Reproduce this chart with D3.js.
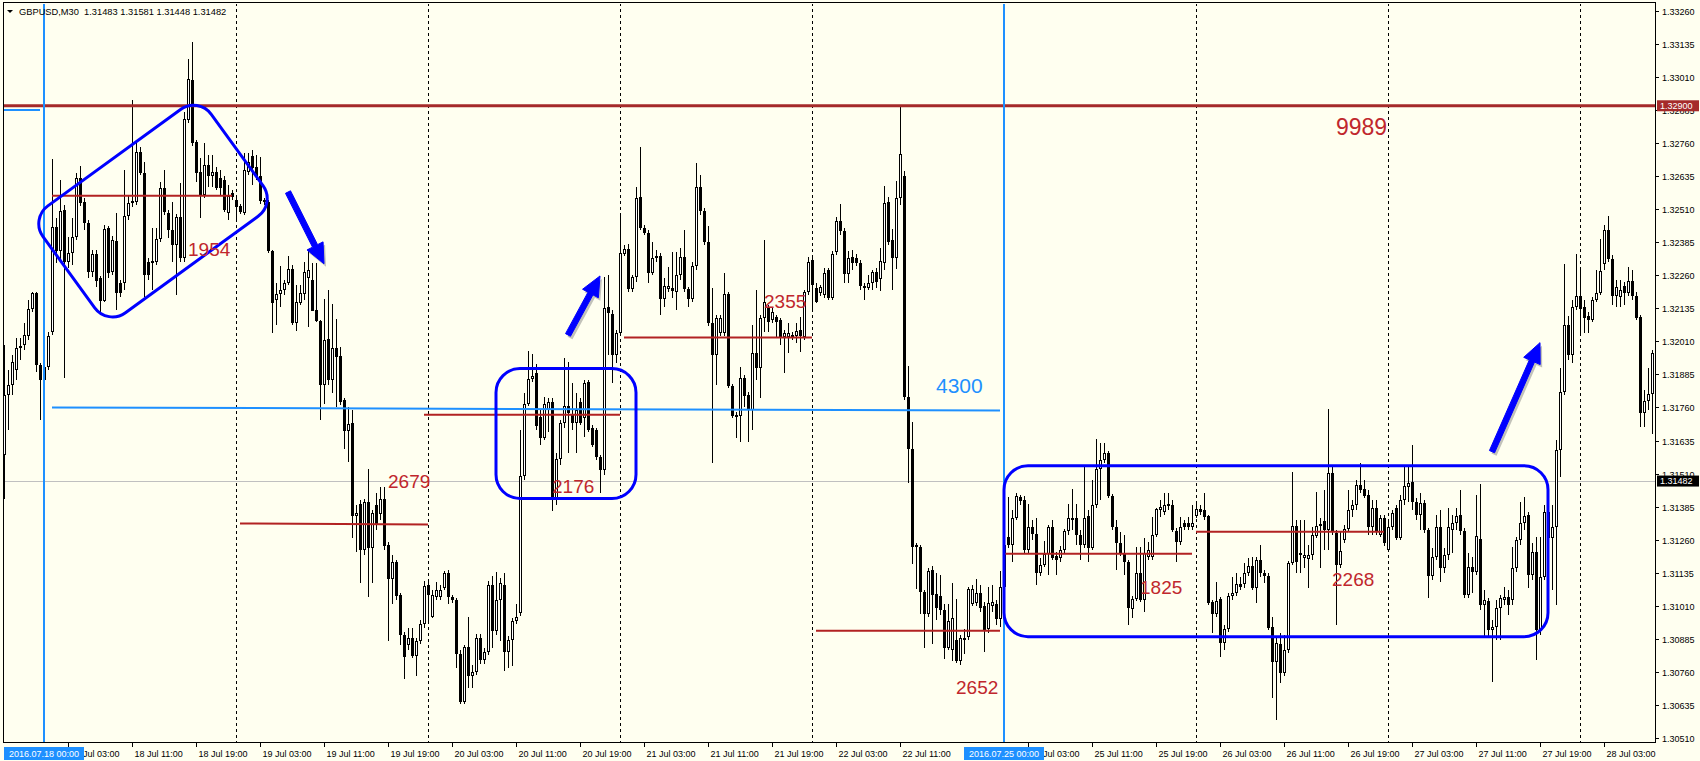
<!DOCTYPE html>
<html><head><meta charset="utf-8">
<script src="https://cdn.jsdelivr.net/npm/d3@7"></script>
<style>
html,body{margin:0;padding:0;background:#FFFFF0;}
svg{display:block;}
text{font-family:"Liberation Sans",Arial,sans-serif;}
</style></head><body>
<svg id="chart" width="1700" height="761"></svg>
<script>
const symbolTitle = "GBPUSD,M30  1.31483 1.31581 1.31448 1.31482";
const firstBarTime = "2016-07-15 19:00";

const open = [1.31580,1.31807,1.31845,1.31901,1.31985,1.31996,1.32030,1.32132,1.32193,1.31920,
1.31864,1.31913,1.32045,1.32442,1.32351,1.32506,1.32310,1.32344,1.32404,1.32627,
1.32536,1.32457,1.32272,1.32340,1.32249,1.32162,1.32438,1.32272,1.32389,1.32230,
1.32230,1.32484,1.32533,1.32536,1.32725,1.32646,1.32310,1.32310,1.32310,1.32397,
1.32589,1.32495,1.32431,1.32374,1.32480,1.32325,1.32846,1.32998,1.32763,1.32650,
1.32563,1.32676,1.32635,1.32650,1.32627,1.32620,1.32495,1.32570,1.32544,1.32521,
1.32495,1.32650,1.32710,1.32669,1.32635,1.32544,1.32536,1.32351,1.32166,1.32189,
1.32204,1.32230,1.32283,1.32079,1.32155,1.32189,1.32249,1.32242,1.32128,1.32087,
1.31845,1.32019,1.31864,1.31985,1.31954,1.31788,1.31671,1.31701,1.31350,1.31395,
1.31221,1.31402,1.31229,1.31391,1.31357,1.31414,1.31240,1.31111,1.31176,1.31051,
1.30900,1.30862,1.30888,1.30820,1.30877,1.30941,1.31089,1.30968,1.31043,1.31043,
1.31077,1.31134,1.31043,1.31032,1.30828,1.30646,1.30854,1.30745,1.30760,1.30888,
1.30805,1.30835,1.31089,1.30915,1.31032,1.31089,1.30835,1.30881,1.30953,1.30983,
1.31501,1.31773,1.31867,1.31890,1.31724,1.31644,1.31750,1.31780,1.31410,1.31565,
1.31701,1.31765,1.31731,1.31701,1.31780,1.31720,1.31856,1.31682,1.31675,1.31573,
1.31523,1.32140,1.32113,1.31958,1.32041,1.32340,1.32359,1.32208,1.32253,1.32555,
1.32438,1.32419,1.32268,1.32329,1.32332,1.32170,1.32208,1.32211,1.32196,1.32261,
1.32329,1.32208,1.32170,1.32295,1.32593,1.32502,1.32385,1.32079,1.31958,1.32041,
1.32041,1.32189,1.31841,1.31724,1.31728,1.31871,1.31807,1.31750,1.31966,1.31909,
1.32098,1.32136,1.32090,1.32102,1.32090,1.32026,1.32026,1.32034,1.32030,1.32053,
1.32026,1.32196,1.32317,1.32211,1.32193,1.32185,1.32279,1.32174,1.32347,1.32465,
1.32427,1.32264,1.32329,1.32325,1.32306,1.32219,1.32211,1.32230,1.32272,1.32245,
1.32306,1.32536,1.32393,1.32325,1.32552,1.32635,1.31799,1.31603,1.31232,1.31232,
1.31062,1.30979,1.31145,1.31055,1.31047,1.30994,1.30851,1.30843,1.30881,1.30801,
1.30881,1.30892,1.31017,1.31021,1.31058,1.31009,1.30922,1.31009,1.31017,1.30960,
1.31081,1.31270,1.31240,1.31342,1.31421,1.31410,1.31221,1.31308,1.31282,1.31134,
1.31164,1.31206,1.31308,1.31198,1.31191,1.31221,1.31293,1.31334,1.31342,1.31278,
1.31240,1.31350,1.31229,1.31391,1.31527,1.31561,1.31588,1.31425,1.31308,1.31248,
1.31210,1.31176,1.30998,1.31036,1.31134,1.31032,1.31195,1.31195,1.31278,1.31372,
1.31365,1.31395,1.31391,1.31293,1.31251,1.31323,1.31323,1.31308,1.31350,1.31376,
1.31372,1.31350,1.31024,1.30979,1.31036,1.30869,1.30922,1.31047,1.31058,1.31092,
1.31092,1.31134,1.31161,1.31077,1.31183,1.31134,1.31123,1.30930,1.30798,1.30866,
1.30756,1.30843,1.31172,1.31312,1.31210,1.31191,1.31187,1.31202,1.31274,1.31312,
1.31331,1.31297,1.31512,1.31285,1.31164,1.31259,1.31300,1.31372,1.31391,1.31467,
1.31452,1.31429,1.31308,1.31380,1.31278,1.31342,1.31221,1.31308,1.31380,1.31266,
1.31410,1.31459,1.31478,1.31402,1.31353,1.31399,1.31297,1.31123,1.31195,1.31308,
1.31153,1.31202,1.31297,1.31323,1.31353,1.31293,1.31051,1.31157,1.31138,1.31263,
1.31013,1.31028,1.30919,1.30930,1.31002,1.31032,1.31043,1.31032,1.31153,1.31259,
1.31323,1.31353,1.31127,1.31213,1.30919,1.31119,1.31365,1.31266,1.31308,1.31599,
1.31818,1.32072,1.31958,1.32140,1.32181,1.32140,1.32106,1.32090,1.32166,1.32193,
1.32302,1.32431,1.32321,1.32181,1.32177,1.32219,1.32193,1.32238,1.32181,1.32102,
1.31739,1.31784,1.31811];

const high = [1.31996,1.31901,1.31958,1.32022,1.32022,1.32079,1.32166,1.32196,1.32196,1.31928,
1.31958,1.32045,1.32699,1.32476,1.32620,1.32525,1.32404,1.32476,1.32646,1.32673,
1.32552,1.32468,1.32355,1.32355,1.32257,1.32450,1.32446,1.32408,1.32495,1.32242,
1.32657,1.32563,1.32922,1.32771,1.32744,1.32688,1.32325,1.32438,1.32438,1.32612,
1.32657,1.32506,1.32536,1.32491,1.32608,1.32877,1.33077,1.33141,1.32771,1.32703,
1.32760,1.32714,1.32714,1.32669,1.32657,1.32635,1.32601,1.32582,1.32563,1.32529,
1.32722,1.32722,1.32733,1.32714,1.32707,1.32552,1.32544,1.32355,1.32230,1.32295,
1.32242,1.32332,1.32298,1.32223,1.32223,1.32310,1.32359,1.32306,1.32306,1.32090,
1.32170,1.32204,1.32151,1.32094,1.31988,1.31796,1.31762,1.31750,1.31391,1.31410,
1.31414,1.31527,1.31372,1.31436,1.31459,1.31459,1.31251,1.31202,1.31183,1.31058,
1.30911,1.30926,1.30926,1.30888,1.30956,1.31104,1.31100,1.31070,1.31100,1.31089,
1.31142,1.31145,1.31051,1.31040,1.30843,1.30862,1.30968,1.30786,1.30903,1.30903,
1.30851,1.31104,1.31123,1.31138,1.31115,1.31134,1.30896,1.30964,1.31017,1.31675,
1.31814,1.31973,1.31962,1.31924,1.31750,1.31799,1.31796,1.31796,1.31588,1.31712,
1.31947,1.31932,1.31852,1.31814,1.31796,1.31864,1.31864,1.31694,1.31682,1.31580,
1.32253,1.32261,1.32128,1.32053,1.32495,1.32374,1.32378,1.32261,1.32593,1.32744,
1.32450,1.32431,1.32385,1.32355,1.32344,1.32249,1.32291,1.32347,1.32347,1.32363,
1.32431,1.32215,1.32310,1.32684,1.32639,1.32514,1.32446,1.32211,1.32109,1.32109,
1.32268,1.32196,1.31849,1.31743,1.31913,1.31883,1.31818,1.32072,1.32204,1.32109,
1.32393,1.32147,1.32136,1.32109,1.32098,1.32053,1.32079,1.32045,1.32079,1.32102,
1.32204,1.32329,1.32329,1.32230,1.32223,1.32287,1.32287,1.32351,1.32480,1.32529,
1.32438,1.32351,1.32355,1.32340,1.32317,1.32230,1.32261,1.32279,1.32287,1.32363,
1.32597,1.32555,1.32434,1.32616,1.32899,1.32654,1.31917,1.31705,1.31248,1.31240,
1.31070,1.31153,1.31161,1.31134,1.31127,1.31017,1.31017,1.31096,1.31036,1.30900,
1.30922,1.31081,1.31089,1.31111,1.31089,1.31024,1.31081,1.31089,1.31032,1.31142,
1.31259,1.31421,1.31372,1.31436,1.31429,1.31425,1.31395,1.31334,1.31342,1.31191,
1.31255,1.31316,1.31334,1.31213,1.31236,1.31300,1.31395,1.31452,1.31395,1.31297,
1.31539,1.31372,1.31486,1.31641,1.31626,1.31626,1.31595,1.31433,1.31334,1.31289,
1.31278,1.31183,1.31047,1.31232,1.31232,1.31266,1.31251,1.31346,1.31380,1.31410,
1.31436,1.31436,1.31410,1.31304,1.31346,1.31334,1.31346,1.31391,1.31399,1.31391,
1.31436,1.31353,1.31032,1.31100,1.31043,1.30938,1.31058,1.31119,1.31134,1.31119,
1.31172,1.31191,1.31195,1.31195,1.31240,1.31145,1.31134,1.30968,1.30888,1.30907,
1.30900,1.31179,1.31516,1.31334,1.31334,1.31334,1.31240,1.31308,1.31440,1.31342,
1.31448,1.31754,1.31535,1.31297,1.31289,1.31316,1.31448,1.31410,1.31486,1.31550,
1.31486,1.31448,1.31410,1.31410,1.31353,1.31353,1.31327,1.31372,1.31391,1.31429,
1.31535,1.31535,1.31618,1.31418,1.31436,1.31410,1.31304,1.31229,1.31353,1.31372,
1.31229,1.31380,1.31353,1.31380,1.31448,1.31304,1.31210,1.31195,1.31429,1.31470,
1.31070,1.31040,1.30956,1.31032,1.31051,1.31081,1.31070,1.31232,1.31270,1.31402,
1.31421,1.31365,1.31248,1.31270,1.31270,1.31391,1.31410,1.31391,1.31637,1.31909,
1.32302,1.32106,1.32166,1.32340,1.32291,1.32166,1.32121,1.32177,1.32279,1.32397,
1.32450,1.32484,1.32336,1.32242,1.32242,1.32234,1.32291,1.32279,1.32196,1.32109,
1.31826,1.31909,1.31977];

const low = [1.31414,1.31675,1.31807,1.31864,1.31939,1.31977,1.32015,1.32121,1.31894,1.31712,
1.31497,1.31901,1.32034,1.32306,1.32317,1.31871,1.32287,1.32298,1.32393,1.32521,
1.32431,1.32249,1.32253,1.32215,1.32117,1.32158,1.32249,1.32261,1.32128,1.32177,
1.32204,1.32468,1.32518,1.32525,1.32639,1.32177,1.32242,1.32204,1.32298,1.32385,
1.32487,1.32400,1.32310,1.32185,1.32310,1.32310,1.32835,1.32748,1.32612,1.32476,
1.32552,1.32593,1.32593,1.32582,1.32563,1.32499,1.32468,1.32544,1.32461,1.32491,
1.32487,1.32639,1.32601,1.32620,1.32529,1.32525,1.32344,1.32041,1.32072,1.32140,
1.32185,1.32223,1.32072,1.32049,1.32147,1.32166,1.32064,1.32124,1.32083,1.31712,
1.31773,1.31845,1.31814,1.31762,1.31769,1.31603,1.31554,1.31266,1.31213,1.31096,
1.31202,1.31043,1.31096,1.31297,1.31334,1.31221,1.30877,1.31017,1.31032,1.30862,
1.30733,1.30843,1.30813,1.30745,1.30866,1.30926,1.30941,1.30964,1.31032,1.31032,
1.31070,1.31017,1.31021,1.30775,1.30639,1.30639,1.30699,1.30699,1.30748,1.30790,
1.30790,1.30824,1.30851,1.30900,1.30877,1.30764,1.30775,1.30783,1.30941,1.30972,
1.31486,1.31765,1.31856,1.31675,1.31618,1.31637,1.31667,1.31368,1.31391,1.31542,
1.31682,1.31588,1.31675,1.31588,1.31694,1.31648,1.31667,1.31610,1.31561,1.31436,
1.31505,1.31958,1.31852,1.31928,1.32034,1.32332,1.32196,1.32196,1.32234,1.32431,
1.32412,1.32230,1.32261,1.32310,1.32109,1.32140,1.32196,1.32174,1.32128,1.32242,
1.32196,1.32140,1.32158,1.32279,1.32487,1.32374,1.32068,1.31550,1.31845,1.32030,
1.32030,1.31833,1.31720,1.31644,1.31629,1.31762,1.31629,1.31675,1.31864,1.31796,
1.32045,1.32045,1.32079,1.32022,1.31996,1.31890,1.31966,1.32015,1.32003,1.31969,
1.32015,1.32185,1.32128,1.32155,1.32181,1.32174,1.32166,1.32166,1.32336,1.32412,
1.32230,1.32230,1.32279,1.32295,1.32204,1.32166,1.32204,1.32204,1.32211,1.32200,
1.32279,1.32374,1.32204,1.32283,1.32525,1.31788,1.31474,1.31168,1.31074,1.30979,
1.30851,1.30968,1.30866,1.30956,1.30975,1.30809,1.30843,1.30801,1.30794,1.30786,
1.30828,1.30881,1.31009,1.31009,1.30987,1.30835,1.30907,1.30987,1.30938,1.30930,
1.31070,1.31229,1.31176,1.31334,1.31391,1.31206,1.31210,1.31259,1.31089,1.31123,
1.31157,1.31127,1.31183,1.31127,1.31176,1.31210,1.31278,1.31297,1.31240,1.31183,
1.31229,1.31176,1.31221,1.31380,1.31410,1.31550,1.31418,1.31297,1.31145,1.31198,
1.31127,1.30938,1.30964,1.31028,1.31024,1.30987,1.31183,1.31183,1.31270,1.31346,
1.31353,1.31372,1.31289,1.31176,1.31240,1.31297,1.31297,1.31297,1.31342,1.31353,
1.31334,1.31013,1.30907,1.30968,1.30817,1.30843,1.30911,1.31032,1.31047,1.31070,
1.31077,1.31123,1.31070,1.31021,1.31119,1.31096,1.30919,1.30662,1.30578,1.30718,
1.30745,1.30832,1.31164,1.31134,1.31134,1.31153,1.31077,1.31183,1.31266,1.31153,
1.31221,1.31221,1.31278,1.30938,1.31153,1.31248,1.31289,1.31346,1.31372,1.31436,
1.31418,1.31278,1.31278,1.31278,1.31270,1.31236,1.31213,1.31297,1.31259,1.31259,
1.31391,1.31402,1.31372,1.31334,1.31297,1.31285,1.31040,1.31108,1.31183,1.31100,
1.31134,1.31183,1.31210,1.31297,1.31278,1.31040,1.31040,1.31058,1.31127,1.30994,
1.30892,1.30892,1.30722,1.30881,1.30881,1.31013,1.30975,1.31013,1.31138,1.31240,
1.31297,1.31077,1.31108,1.30805,1.30900,1.31108,1.31240,1.31070,1.31013,1.31497,
1.31807,1.31939,1.31928,1.32128,1.32030,1.32041,1.32041,1.32083,1.32158,1.32185,
1.32279,1.32310,1.32147,1.32140,1.32140,1.32147,1.32181,1.32166,1.32090,1.31686,
1.31686,1.31750,1.31660];

const close = [1.31807,1.31845,1.31932,1.31985,1.31992,1.32034,1.32132,1.32193,1.31920,1.31864,
1.31913,1.32030,1.32442,1.32351,1.32502,1.32310,1.32344,1.32404,1.32627,1.32533,
1.32457,1.32272,1.32340,1.32238,1.32162,1.32434,1.32268,1.32393,1.32193,1.32193,
1.32484,1.32533,1.32540,1.32725,1.32646,1.32261,1.32261,1.32313,1.32397,1.32589,
1.32499,1.32431,1.32374,1.32480,1.32325,1.32850,1.33001,1.32760,1.32646,1.32563,
1.32676,1.32635,1.32650,1.32589,1.32589,1.32506,1.32559,1.32555,1.32518,1.32499,
1.32657,1.32688,1.32665,1.32631,1.32540,1.32536,1.32351,1.32155,1.32189,1.32204,
1.32230,1.32283,1.32079,1.32158,1.32193,1.32272,1.32279,1.32124,1.32087,1.31845,
1.32015,1.31864,1.31985,1.31951,1.31780,1.31671,1.31697,1.31350,1.31361,1.31221,
1.31402,1.31229,1.31361,1.31319,1.31414,1.31236,1.31111,1.31176,1.31047,1.30900,
1.30817,1.30888,1.30820,1.30877,1.30941,1.31085,1.31051,1.31051,1.31070,1.31070,
1.31134,1.31043,1.31032,1.30828,1.30646,1.30854,1.30745,1.30760,1.30888,1.30805,
1.30835,1.31089,1.30915,1.31032,1.31096,1.30835,1.30881,1.30953,1.30968,1.31501,
1.31773,1.31867,1.31879,1.31690,1.31644,1.31773,1.31780,1.31410,1.31565,1.31701,
1.31765,1.31739,1.31701,1.31750,1.31701,1.31852,1.31675,1.31618,1.31573,1.31523,
1.32136,1.32117,1.31958,1.32041,1.32344,1.32359,1.32208,1.32253,1.32552,1.32438,
1.32419,1.32268,1.32325,1.32332,1.32170,1.32219,1.32219,1.32200,1.32261,1.32329,
1.32208,1.32170,1.32295,1.32593,1.32502,1.32385,1.32079,1.31958,1.32098,1.32098,
1.32189,1.31841,1.31728,1.31731,1.31871,1.31803,1.31750,1.31966,1.31909,1.32098,
1.32158,1.32083,1.32121,1.32083,1.32026,1.32041,1.32041,1.32026,1.32049,1.32030,
1.32196,1.32310,1.32223,1.32158,1.32215,1.32268,1.32174,1.32340,1.32465,1.32427,
1.32264,1.32325,1.32306,1.32306,1.32219,1.32211,1.32230,1.32272,1.32234,1.32313,
1.32533,1.32385,1.32325,1.32552,1.32718,1.31799,1.31603,1.31232,1.31240,1.31062,
1.30979,1.31142,1.31051,1.31002,1.30994,1.30851,1.30953,1.30964,1.30801,1.30888,
1.30888,1.31074,1.31074,1.31058,1.31002,1.30915,1.31021,1.31024,1.30960,1.31081,
1.31240,1.31240,1.31342,1.31425,1.31406,1.31221,1.31308,1.31282,1.31134,1.31164,
1.31206,1.31308,1.31191,1.31183,1.31221,1.31293,1.31342,1.31342,1.31278,1.31240,
1.31342,1.31229,1.31391,1.31527,1.31561,1.31588,1.31425,1.31308,1.31248,1.31210,
1.31176,1.31002,1.31036,1.31134,1.31032,1.31210,1.31221,1.31278,1.31376,1.31384,
1.31391,1.31387,1.31297,1.31251,1.31308,1.31308,1.31308,1.31323,1.31376,1.31365,
1.31346,1.31021,1.30979,1.31028,1.30869,1.30922,1.31047,1.31058,1.31092,1.31081,
1.31134,1.31161,1.31077,1.31183,1.31134,1.31123,1.30926,1.30798,1.30869,1.30756,
1.30843,1.31172,1.31312,1.31176,1.31202,1.31202,1.31202,1.31278,1.31312,1.31319,
1.31297,1.31512,1.31289,1.31164,1.31217,1.31300,1.31372,1.31391,1.31467,1.31448,
1.31425,1.31308,1.31380,1.31289,1.31342,1.31248,1.31308,1.31361,1.31266,1.31410,
1.31463,1.31474,1.31402,1.31353,1.31399,1.31297,1.31123,1.31195,1.31308,1.31153,
1.31202,1.31308,1.31323,1.31350,1.31293,1.31051,1.31157,1.31138,1.31274,1.31013,
1.31032,1.30919,1.30930,1.31002,1.31040,1.31043,1.31013,1.31153,1.31259,1.31323,
1.31350,1.31127,1.31213,1.30919,1.31119,1.31365,1.31266,1.31308,1.31599,1.31818,
1.32072,1.31958,1.32140,1.32181,1.32132,1.32098,1.32090,1.32166,1.32193,1.32276,
1.32431,1.32321,1.32181,1.32215,1.32204,1.32193,1.32238,1.32181,1.32098,1.31739,
1.31784,1.31811,1.31966];

const priceTicks = [1.30510,1.30635,1.30760,1.30885,1.31010,1.31135,1.31260,1.31385,1.31510,1.31635,
1.31760,1.31885,1.32010,1.32135,1.32260,1.32385,1.32510,1.32635,1.32760,1.32885,1.33010,1.33135,1.33260];
const timeTicks = ["18 Jul 03:00","18 Jul 11:00","18 Jul 19:00","19 Jul 03:00","19 Jul 11:00","19 Jul 19:00",
"20 Jul 03:00","20 Jul 11:00","20 Jul 19:00","21 Jul 03:00","21 Jul 11:00","21 Jul 19:00","22 Jul 03:00",
"22 Jul 11:00","25 Jul 03:00","25 Jul 11:00","25 Jul 19:00","26 Jul 03:00","26 Jul 11:00","26 Jul 19:00",
"27 Jul 03:00","27 Jul 11:00","27 Jul 19:00","28 Jul 03:00"];

const markerLines = ["2016-07-18 00:00","2016-07-25 00:00"];
const markerLabels = ["2016.07.18 00:00","2016.07.25 00:00"];
const resistancePrice = 1.32900;
const bidPrice = 1.31482;

// daily level lines: start time, end time, price at start, price at end
const levelStart = ["2016-07-18 01:00","2016-07-19 00:30","2016-07-19 23:30","2016-07-21 00:30","2016-07-22 00:30","2016-07-25 00:00","2016-07-26 00:00"];
const levelEnd   = ["2016-07-18 23:30","2016-07-20 00:00","2016-07-21 00:00","2016-07-22 00:00","2016-07-22 23:30","2016-07-25 23:30","2016-07-26 23:30"];
const levelFrom  = [1.32560,1.31322,1.31733,1.32024,1.30916,1.31207,1.31290];
const levelTo    = [1.32560,1.31318,1.31733,1.32024,1.30916,1.31207,1.31290];

const noteText  = ["1954","2679","2176","2355","2652","1825","2268","9989","4300"];
const noteTime  = ["2016-07-18 18:00","2016-07-19 19:00","2016-07-20 15:30","2016-07-21 18:00","2016-07-22 18:00","2016-07-25 17:00","2016-07-26 17:00","2016-07-26 17:30","2016-07-22 15:30"];
const notePrice = [1.32332,1.31455,1.31436,1.32136,1.30677,1.31055,1.31085,1.32790,1.31816];

const trendFrom = ["2016-07-18 01:00", 1.31760];
const trendTo   = ["2016-07-22 23:30", 1.31749];
const stubFrom  = ["2016-07-15 19:00", 1.32884];
const stubTo    = ["2016-07-15 23:30", 1.32884];

const boxA = ["2016-07-20 08:30","2016-07-21 02:00",1.31907,1.31416];
const boxB = ["2016-07-25 00:00","2016-07-27 20:00",1.31540,1.30894];
const tiltedBoxCenter = ["2016-07-18 13:30",1.32502];

const arrowTail = [["2016-07-19 06:30",1.32574],["2016-07-20 17:30",1.32034],["2016-07-27 13:00",1.31593]];
const arrowHead = [["2016-07-19 11:00",1.32303],["2016-07-20 21:30",1.32257],["2016-07-27 19:00",1.32005]];

// ---------- setup ----------
const N = open.length;
const parse = d3.timeParse("%Y-%m-%d %H:%M");
const fmtKey = d3.timeFormat("%Y-%m-%d %H:%M");
const fmtTick = d3.timeFormat("%d %b %H:%M");
const barTimes = [];
{ let t = parse(firstBarTime);
  while (barTimes.length < N) {
    const d = t.getDay();
    if (d !== 0 && d !== 6) barTimes.push(t);
    t = d3.timeMinute.offset(t, 30);
  } }
const keyIdx = new Map(barTimes.map((t,k)=>[fmtKey(t),k]));
const tickIdx = new Map(barTimes.map((t,k)=>[fmtTick(t),k]));

const plot = {left:3,right:1655,top:3,bottom:742};
const x = d3.scaleLinear().domain([0,N-1]).range([4,4+4*(N-1)]);
const y = d3.scaleLinear().domain([1.30510,1.33260]).range([738.3,10.5]);
const X = s => x(keyIdx.get(s));

const svg = d3.select("#chart");
svg.append("rect").attr("width",1700).attr("height",761).attr("fill","#FFFFF0");
svg.append("defs").append("clipPath").attr("id","clip")
  .append("rect").attr("x",plot.left+1).attr("y",plot.top+1)
  .attr("width",plot.right-plot.left-1).attr("height",plot.bottom-plot.top-1);
const g = svg.append("g").attr("clip-path","url(#clip)");

// day separators
barTimes.forEach((t,k)=>{
  if (t.getHours()===0 && t.getMinutes()===0) {
    g.append("line").attr("x1",Math.round(x(k))+0.5).attr("x2",Math.round(x(k))+0.5)
     .attr("y1",plot.top).attr("y2",plot.bottom)
     .attr("stroke","#000").attr("stroke-width",1).attr("stroke-dasharray","3,3");
  }
});

// bid line
g.append("line").attr("x1",plot.left).attr("x2",plot.right)
 .attr("y1",Math.round(y(bidPrice))+0.5).attr("y2",Math.round(y(bidPrice))+0.5)
 .attr("stroke","#C0C0C0").attr("stroke-width",1);

// candles
const cg = g.append("g");
for (let k=0;k<N;k++){
  const cx = Math.round(x(k));
  const yh = Math.round(y(high[k])), yl = Math.round(y(low[k]));
  const yo = Math.round(y(open[k])), yc = Math.round(y(close[k]));
  cg.append("rect").attr("x",cx).attr("y",yh).attr("width",1).attr("height",Math.max(1,yl-yh)).attr("fill","#000");
  const top = Math.min(yo,yc), bot = Math.max(yo,yc);
  if (close[k] >= open[k]) {
    if (bot-top < 2) {
      cg.append("rect").attr("x",cx-1).attr("y",top).attr("width",3).attr("height",Math.max(1,bot-top+1)).attr("fill","#000");
    } else {
      cg.append("rect").attr("x",cx-0.5).attr("y",top+0.5).attr("width",2).attr("height",bot-top-1)
        .attr("fill","#FFFFFF").attr("stroke","#000").attr("stroke-width",1);
    }
  } else {
    cg.append("rect").attr("x",cx-1).attr("y",top).attr("width",3).attr("height",Math.max(1,bot-top)).attr("fill","#000");
  }
}

// daily level segments
levelFrom.forEach((p,d)=>{
  g.append("line").attr("x1",X(levelStart[d])).attr("x2",X(levelEnd[d]))
   .attr("y1",y(p)).attr("y2",y(levelTo[d])).attr("stroke","#B22222").attr("stroke-width",2);
});

// trend line 4300 and stub
g.append("line").attr("x1",X(trendFrom[0])).attr("y1",y(trendFrom[1]))
 .attr("x2",X(trendTo[0])).attr("y2",y(trendTo[1])).attr("stroke","#1E90FF").attr("stroke-width",2);
g.append("line").attr("x1",plot.left).attr("y1",y(stubFrom[1]))
 .attr("x2",X(stubTo[0])).attr("y2",y(stubTo[1])).attr("stroke","#1E90FF").attr("stroke-width",2);

// resistance line
g.append("line").attr("x1",plot.left).attr("x2",plot.right)
 .attr("y1",y(resistancePrice)).attr("y2",y(resistancePrice))
 .attr("stroke","#A52A2A").attr("stroke-width",3);

// vertical marker lines
markerLines.forEach(s=>{
  g.append("line").attr("x1",X(s)).attr("x2",X(s)).attr("y1",plot.top).attr("y2",plot.bottom)
   .attr("stroke","#1E90FF").attr("stroke-width",2);
});

// boxes
function box(b){
  const x0=X(b[0]), x1=X(b[1]), y0=y(b[2]), y1=y(b[3]);
  g.append("rect").attr("x",x0).attr("y",y0).attr("width",x1-x0).attr("height",y1-y0)
   .attr("rx",24).attr("ry",24).attr("fill","none").attr("stroke","#0000FF").attr("stroke-width",3);
}
box(boxA); box(boxB);
{
  const cx = X(tiltedBoxCenter[0]), cy = y(tiltedBoxCenter[1]);
  g.append("rect").attr("x",-104).attr("y",-66).attr("width",208).attr("height",132)
   .attr("rx",22).attr("ry",22).attr("fill","none").attr("stroke","#0000FF").attr("stroke-width",3)
   .attr("transform",`translate(${cx+1},${cy}) rotate(-36)`);
}

// arrows
function arrowPath(x1,y1,x2,y2){
  const a = Math.atan2(y2-y1,x2-x1), L = Math.hypot(x2-x1,y2-y1);
  const hl=20, hw=9, sw=2.8;
  const pts=[[0,-sw],[L-hl,-sw],[L-hl,-hw],[L,0],[L-hl,hw],[L-hl,sw],[0,sw]];
  return pts.map(([u,v])=>[x1+u*Math.cos(a)-v*Math.sin(a), y1+u*Math.sin(a)+v*Math.cos(a)]);
}
arrowTail.forEach((t,i)=>{
  const h = arrowHead[i];
  const pts = arrowPath(X(t[0]),y(t[1]),X(h[0]),y(h[1]));
  g.append("polygon").attr("points",pts.map(p=>[p[0]+2,p[1]+3].join(",")).join(" "))
   .attr("fill","#777").attr("opacity",0.45);
  g.append("polygon").attr("points",pts.map(p=>p.join(",")).join(" "))
   .attr("fill","#0000FF").attr("stroke","#0000FF").attr("stroke-width",1).attr("stroke-linejoin","round");
});

// notes
noteText.forEach((t,i)=>{
  const big = t==="9989", blue = t==="4300";
  g.append("text").attr("x",X(noteTime[i])).attr("y",y(notePrice[i]))
   .attr("font-size", big?23:(blue?21:19))
   .attr("fill", blue?"#1E90FF":"#C0272D").text(t);
});

// frame
svg.append("line").attr("x1",plot.left+0.5).attr("x2",plot.left+0.5).attr("y1",plot.top).attr("y2",plot.bottom+1).attr("stroke","#000");
svg.append("line").attr("x1",plot.right+0.5).attr("x2",plot.right+0.5).attr("y1",plot.top).attr("y2",plot.bottom+1).attr("stroke","#000");
svg.append("line").attr("x1",plot.left).attr("x2",plot.right+1).attr("y1",plot.top-0.5).attr("y2",plot.top-0.5).attr("stroke","#000");
svg.append("line").attr("x1",plot.left).attr("x2",plot.right+1).attr("y1",plot.bottom+0.5).attr("y2",plot.bottom+0.5).attr("stroke","#000");

// y axis
priceTicks.forEach(p=>{
  const yy = Math.round(y(p))+0.5;
  svg.append("line").attr("x1",plot.right).attr("x2",plot.right+4).attr("y1",yy).attr("y2",yy).attr("stroke","#000");
  svg.append("text").attr("x",plot.right+7).attr("y",yy+3.3).attr("font-size",9).attr("fill","#000").text(p.toFixed(5));
});
function priceTag(p,fill){
  const yy = y(p);
  svg.append("rect").attr("x",plot.right+2).attr("y",yy-5.5).attr("width",42).attr("height",11).attr("fill",fill);
  svg.append("text").attr("x",plot.right+5).attr("y",yy+3.3).attr("font-size",9).attr("fill","#fff").text(p.toFixed(5));
}
priceTag(resistancePrice,"#A52A2A");
priceTag(bidPrice,"#000000");

// x axis
timeTicks.forEach(s=>{
  const k = tickIdx.get(s);
  if (k===undefined) return;
  const xx = Math.round(x(k))+0.5;
  svg.append("line").attr("x1",xx).attr("x2",xx).attr("y1",plot.bottom).attr("y2",plot.bottom+5).attr("stroke","#000");
  svg.append("text").attr("x",xx+2).attr("y",757).attr("font-size",9).attr("fill","#000").text(s);
});
markerLines.forEach((s,i)=>{
  const xx = X(s);
  svg.append("rect").attr("x",xx-40).attr("y",747).attr("width",80).attr("height",13).attr("fill","#1E90FF");
  svg.append("text").attr("x",xx).attr("y",757).attr("text-anchor","middle").attr("font-size",9).attr("fill","#fff").text(markerLabels[i]);
});

// header
svg.append("path").attr("d","M7,10 L13,10 L10,13 Z").attr("fill","#000");
svg.append("text").attr("x",19).attr("y",15).attr("font-size",9.3).attr("fill","#000").attr("xml:space","preserve").text(symbolTitle);
</script>
</body></html>
